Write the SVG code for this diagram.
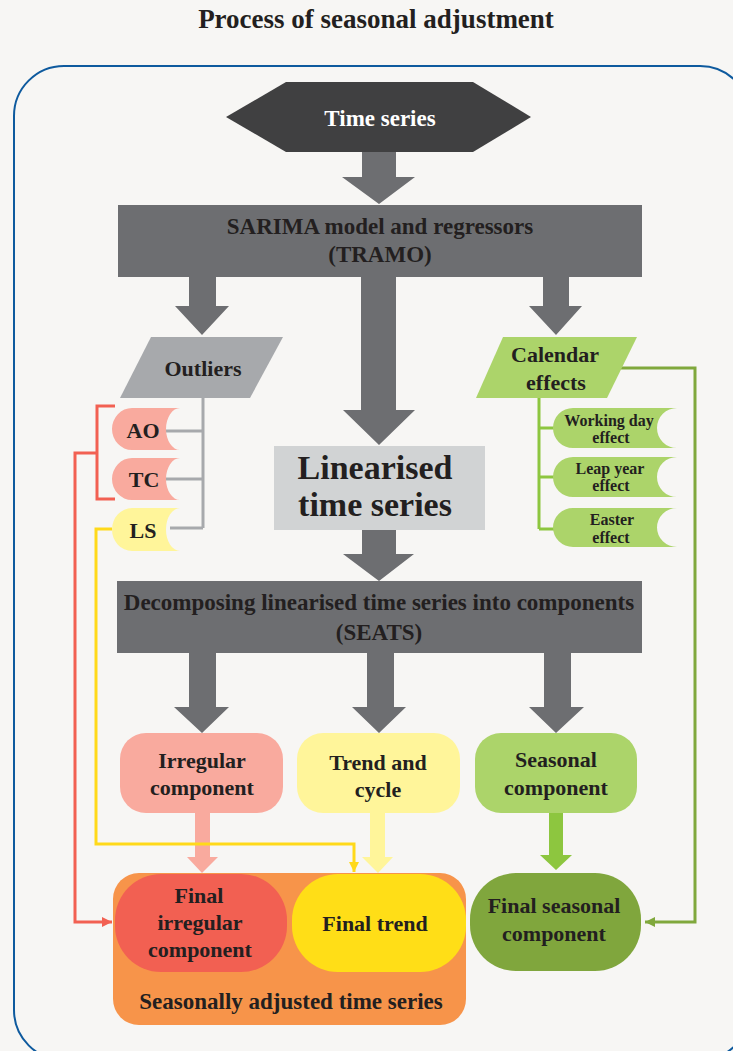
<svg xmlns="http://www.w3.org/2000/svg" width="733" height="1051" viewBox="0 0 733 1051">
<style>
text{font-family:"Liberation Serif","Times New Roman",serif;font-weight:bold;fill:#231f20;text-anchor:middle}
.big{font-size:23px}
.med{font-size:22px}
.sm{font-size:16px}
.gar{fill:#6d6e71}
.line{fill:none;stroke-width:3;stroke-linejoin:miter}
</style>
<defs>
<marker id="mRed" viewBox="0 0 10 10" refX="10" refY="5" markerWidth="10" markerHeight="10" markerUnits="userSpaceOnUse" orient="auto"><path d="M0,0 L10,5 L0,10 Z" fill="#f26052"/></marker>
<marker id="mYel" viewBox="0 0 10 10" refX="10" refY="5" markerWidth="10" markerHeight="10" markerUnits="userSpaceOnUse" orient="auto"><path d="M0,0 L10,5 L0,10 Z" fill="#ffd91a"/></marker>
<marker id="mGrn" viewBox="0 0 10 10" refX="10" refY="5" markerWidth="10" markerHeight="10" markerUnits="userSpaceOnUse" orient="auto"><path d="M0,0 L10,5 L0,10 Z" fill="#80a83c"/></marker>
</defs>
<rect x="0" y="0" width="733" height="1051" fill="#f7f6f4"/>
<text x="376" y="28" style="font-size:27px">Process of  seasonal adjustment</text>
<rect x="14" y="66" width="736" height="994" rx="50" ry="50" fill="#f7f6f4" stroke="#0e5a9e" stroke-width="2"/>

<g id="connectors">
<path class="gar" d="M362,152 H396 V177 H415 L379,204 L342,177 H362 Z"/>
<path class="gar" d="M189,277 H216 V306 H229 L202,335 L175,306 H189 Z"/>
<path class="gar" d="M543,277 H569 V306 H582 L556,335 L529,306 H543 Z"/>
<path class="gar" d="M361,277 H396 V410 H415 L379,445 L343,410 H361 Z"/>
<path class="gar" d="M362,530 H396 V554 H414 L379,581 L343,554 H362 Z"/>
<path class="gar" d="M189,653 H216 V707 H229 L202,733 L174,707 H189 Z"/>
<path class="gar" d="M367,653 H394 V707 H406 L379,733 L352,707 H367 Z"/>
<path class="gar" d="M544,653 H571 V707 H584 L556,733 L529,707 H544 Z"/>
<path fill="#f9aa9e" d="M195,813 H210 V857 H218 L202,873 L187,857 H195 Z"/>
<path fill="#fff59a" d="M370,813 H385 V857 H393 L378,873 L362,857 H370 Z"/>
<path fill="#8dc63f" d="M549,813 H563 V855 H572 L556,870 L540,855 H549 Z"/>
<path class="line" stroke="#a7a9ac" d="M203,398 V528 M166,431 H203 M166,479 H203 M170,528 H203"/>
<path class="line" stroke="#f26052" d="M115,406 H97 V499 H115 M97,453 H75 V922 H112" marker-end="url(#mRed)"/>
<path class="line" stroke="#ffd91a" d="M112,529 H96 V844 H354 V872" marker-end="url(#mYel)"/>
<path class="line" stroke="#8dc63f" d="M539,398 V529 M539,428 H554 M539,477 H554 M539,529 H554"/>
<path class="line" stroke="#80a83c" d="M620,368 H695 V922 H645" marker-end="url(#mGrn)"/>
</g>

<g id="time-series">
<polygon points="226,117 286,82 473,82 531,117 473,152 286,152" fill="#404041"/>
<text x="380" y="126" class="big" style="fill:#ffffff">Time series</text>
</g>

<g id="tramo">
<rect x="118" y="205" width="524" height="72" fill="#6d6e71"/>
<text x="380" y="234" class="big">SARIMA model and regressors</text>
<text x="380" y="262" class="big">(TRAMO)</text>
</g>

<g id="outliers">
<polygon points="151,337 283,337 250,398 120,398" fill="#a7a9ac"/>
<text x="203" y="376" class="med">Outliers</text>
</g>

<g id="ao">
<path d="M132,408 H180 A14,21 0 0 0 180,450 H132 A20,21 0 0 1 132,408 Z" fill="#f9aa9e"/>
<text x="143" y="438" class="med">AO</text>
</g>
<g id="tc">
<path d="M132,458 H180 A14,21 0 0 0 180,500 H132 A20,21 0 0 1 132,458 Z" fill="#f9aa9e"/>
<text x="144" y="487" class="med">TC</text>
</g>
<g id="ls">
<path d="M132,508 H180 A14,21.5 0 0 0 180,551 H132 A20,21.5 0 0 1 132,508 Z" fill="#fff59a"/>
<text x="143" y="538" class="med">LS</text>
</g>

<g id="calendar">
<polygon points="503,337 637,337 607,398 476,398" fill="#acd46a"/>
<text x="555" y="362" class="med">Calendar</text>
<text x="556" y="390" class="med">effects</text>
</g>

<g id="working-day">
<path d="M573,408 H677 A20,20 0 0 0 677,448 H573 A20,20 0 0 1 573,408 Z" fill="#acd46a"/>
<text x="609" y="426" class="sm">Working day</text>
<text x="611" y="443" class="sm">effect</text>
</g>
<g id="leap-year">
<path d="M573,457 H677 A20,20 0 0 0 677,497 H573 A20,20 0 0 1 573,457 Z" fill="#acd46a"/>
<text x="610" y="474" class="sm">Leap year</text>
<text x="611" y="491" class="sm">effect</text>
</g>
<g id="easter">
<path d="M573,508 H677 A20,19.5 0 0 0 677,547 H573 A20,19.5 0 0 1 573,508 Z" fill="#acd46a"/>
<text x="612" y="525" class="sm">Easter</text>
<text x="611" y="543" class="sm">effect</text>
</g>

<g id="linearised">
<rect x="274" y="446" width="211" height="84" fill="#d1d3d4"/>
<text x="375" y="479" style="font-size:34px">Linearised</text>
<text x="375" y="516" style="font-size:34px">time series</text>
</g>

<g id="seats">
<rect x="117" y="581" width="525" height="72" fill="#6d6e71"/>
<text x="379" y="610" class="big">Decomposing linearised time series into components</text>
<text x="379" y="640" class="big">(SEATS)</text>
</g>

<g id="irregular">
<rect x="120" y="733" width="163" height="80" rx="26" fill="#f9aa9e"/>
<text x="202" y="768" class="med">Irregular</text>
<text x="202" y="795" class="med">component</text>
</g>
<g id="trend">
<rect x="297" y="733" width="163" height="80" rx="26" fill="#fff59a"/>
<text x="378" y="770" class="med">Trend and</text>
<text x="378" y="797" class="med">cycle</text>
</g>
<g id="seasonal">
<rect x="475" y="733" width="162" height="80" rx="26" fill="#acd46a"/>
<text x="556" y="767" class="med">Seasonal</text>
<text x="556" y="795" class="med">component</text>
</g>

<g id="seasonally-adjusted">
<rect x="113" y="873" width="353" height="152" rx="26" fill="#f7944a"/>
<text x="291" y="1009" style="font-size:23px">Seasonally adjusted time series</text>
</g>
<g id="final-irregular">
<rect x="115" y="874" width="172" height="98" rx="46" fill="#f26052"/>
<text x="199" y="903" class="med">Final</text>
<text x="200" y="930" class="med">irregular</text>
<text x="200" y="957" class="med">component</text>
</g>
<g id="final-trend">
<rect x="292" y="874" width="174" height="98" rx="46" fill="#ffde17"/>
<text x="375" y="931" class="med">Final trend</text>
</g>
<g id="final-seasonal">
<rect x="470" y="873" width="171" height="98" rx="46" fill="#80a63d"/>
<text x="554" y="913" class="med">Final seasonal</text>
<text x="554" y="941" class="med">component</text>
</g>
</svg>
